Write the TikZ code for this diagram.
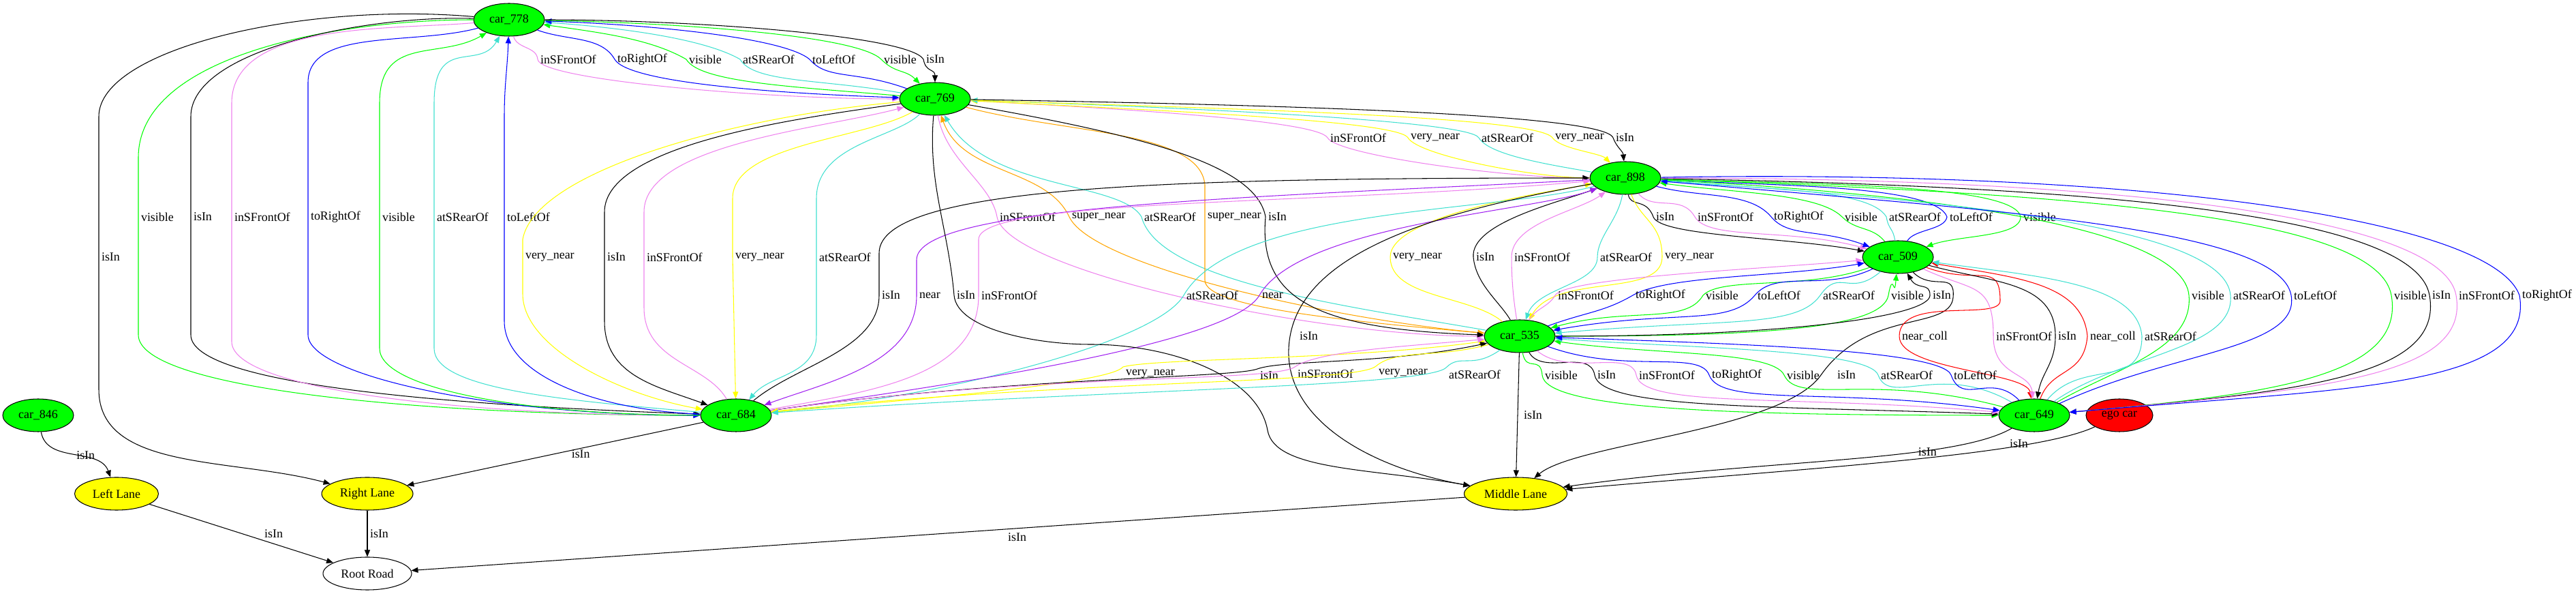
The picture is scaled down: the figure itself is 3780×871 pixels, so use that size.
\documentclass[tikz,border=0pt]{standalone}
\usepackage{fontspec}
\setmainfont{Liberation Serif}
\usepackage{tikz}
\usetikzlibrary{shapes.geometric,arrows.meta}

\definecolor{vgreen}{RGB}{0,255,0}
\definecolor{vblue}{RGB}{0,0,255}
\definecolor{vviolet}{RGB}{238,130,238}
\definecolor{vturq}{RGB}{64,224,208}
\definecolor{vyellow}{RGB}{255,255,0}
\definecolor{vorange}{RGB}{255,165,0}
\definecolor{vpurple}{RGB}{160,32,240}
\definecolor{vred}{RGB}{255,0,0}
\newcommand\lf{\fontsize{5.1}{6}\selectfont}

\begin{document}
\begin{tikzpicture}[x=0.1mm, y=0.1mm, >={Triangle[length=1mm,width=0.8mm]}, every node/.style={font=\lf}]
  \tikzstyle{car} = [ellipse, draw, fill=vgreen, minimum width=10.4mm, minimum height=4.8mm, inner sep=0pt, line width=0.3pt]
  \tikzstyle{egonode} = [car, fill=vred, minimum width=9.8mm]
  \tikzstyle{lane} = [car, fill=vyellow]
  \tikzstyle{road} = [car, fill=white, minimum width=13mm]
  \tikzstyle{lbl} = [anchor=west, inner sep=1pt, text=black]
  \tikzstyle{rel} = [line width=0.3pt]
  \tikzstyle{rvis} = [rel, draw=vgreen]
  \tikzstyle{risf} = [rel, draw=vviolet]
  \tikzstyle{rsr} = [rel, draw=vturq]
  \tikzstyle{rtr} = [rel, draw=vblue]
  \tikzstyle{rvn} = [rel, draw=vyellow]
  \tikzstyle{rsn} = [rel, draw=vorange]
  \tikzstyle{rnr} = [rel, draw=vpurple]
  \tikzstyle{rnc} = [rel, draw=vred]
  \tikzstyle{rin} = [rel, draw=black]
  \useasboundingbox (0,0) rectangle (3780,871);

  \node[car] (c778) at (747,842) {car\_778};
  \node[car] (c769) at (1372,726) {car\_769};
  \node[car] (c898) at (2385,610) {car\_898};
  \node[car] (c509) at (2785,494) {car\_509};
  \node[car] (c535) at (2230,378) {car\_535};
  \node[car] (c684) at (1080,262) {car\_684};
  \node[car] (c846) at (56,262) {car\_846};
  \node[car] (c649) at (2985,262) {car\_649};
  \node[egonode] (ego) at (3110,262) {ego car};
  \node[lane, minimum width=12.3mm] (ll) at (171,147) {Left Lane};
  \node[lane, minimum width=13.4mm] (rl) at (539,147) {Right Lane};
  \node[lane, minimum width=15.1mm] (ml) at (2224,147) {Middle Lane};
  \node[road] (rr) at (539,30) {Root Road};

  % car_778 -- car_769
  \draw[risf,->] (c778) to[out=-75,in=95] (789,784) node[lbl]{inSFrontOf} to[out=-85,in=180,out distance=3mm,in distance=20mm] (c769);
  \draw[rtr,->] (c778) to[out=-20,in=120,in distance=4mm] (902,784) node[lbl]{toRightOf} to[out=-60,in=178,out distance=4mm,in distance=18mm] (c769);
  \draw[rvis,<-] (c778) to[out=-8,in=150,in distance=6mm] (1007,784) node[lbl]{visible} to[out=-60,in=175,out distance=4mm,in distance=15mm] (c769);
  \draw[rsr,<-] (c778) to[out=-4,in=150,in distance=6mm] (1086,784) node[lbl]{atSRearOf} to[out=-60,in=170,out distance=4mm,in distance=12mm] (c769);
  \draw[rtr,<-] (c778) to[out=-2,in=140,in distance=5mm] (1188,784) node[lbl]{toLeftOf} to[out=-50,in=160,out distance=4mm,in distance=8mm] (c769);
  \draw[rvis,->] (c778) to[out=-1,in=135,in distance=5mm] (1293,784) node[lbl]{visible} to[out=-45,in=135,out distance=3mm,in distance=3mm] (c769);
  \draw[rin,->] (c778) to[out=0,in=120,in distance=4mm] (1355,784) node[lbl]{isIn} to[out=-80,in=90,out distance=2mm,in distance=2mm] (c769);

  % car_769 -- car_898
  \draw[risf,->] (c769) to[out=-3,in=120,in distance=3mm] (1948,669) node[lbl]{inSFrontOf} to[out=-60,in=180,out distance=3mm,in distance=12mm] (c898);
  \draw[rvn,<-] (c769) to[out=-3,in=120,in distance=3mm] (2066,669) node[lbl]{very\_near} to[out=-60,in=180,out distance=3mm,in distance=8mm] (c898);
  \draw[rsr,<-] (c769) to[out=-2,in=120,in distance=3mm] (2170,669) node[lbl]{atSRearOf} to[out=-60,in=170,out distance=3mm,in distance=6mm] (c898);
  \draw[rvn,->] (c769) to[out=-2,in=125,in distance=4mm] (2278,669) node[lbl]{very\_near} to[out=-55,in=135,out distance=2mm,in distance=2mm] (c898);
  \draw[rin,->] (c769) to[out=-1,in=110,in distance=4mm] (2367,669) node[lbl]{isIn} to[out=-70,in=95,out distance=1.5mm,in distance=1.5mm] (c898);

  % car_778 -- car_684
  \draw[rvis,->] (c778) to[out=180,in=90,out distance=20mm,in distance=15mm] (203,640) -- (203,553) node[lbl]{visible} -- (203,380) to[out=270,in=180,out distance=8mm,in distance=40mm] (c684);
  \draw[rin,->] (c778) to[out=178,in=90,out distance=15mm,in distance=10mm] (280,700) -- (280,553) node[lbl]{isIn} -- (280,380) to[out=270,in=178,out distance=7mm,in distance=40mm] (c684);
  \draw[risf,->] (c778) to[out=185,in=90,out distance=12mm,in distance=12mm] (340,720) -- (340,553) node[lbl]{inSFrontOf} -- (340,370) to[out=270,in=180,out distance=7mm,in distance=35mm] (c684);
  \draw[rtr,->] (c778) to[out=195,in=90,out distance=10mm,in distance=8mm] (452,750) -- (452,553) node[lbl]{toRightOf} -- (452,380) to[out=270,in=180,out distance=6mm,in distance=30mm] (c684);
  \draw[rvis,<-] (c778) to[out=210,in=90,out distance=8mm,in distance=10mm] (557,720) -- (557,553) node[lbl]{visible} -- (557,360) to[out=270,in=180,out distance=6mm,in distance=25mm] (c684);
  \draw[rsr,<-] (c778) to[out=240,in=90,out distance=6mm,in distance=10mm] (637,720) -- (637,553) node[lbl]{atSRearOf} -- (637,360) to[out=270,in=175,out distance=6mm,in distance=20mm] (c684);
  \draw[rtr,<-] (c778) to[out=268,in=90] (740,700) -- (740,553) node[lbl]{toLeftOf} -- (740,400) to[out=270,in=178,out distance=8mm,in distance=15mm] (c684);
  \draw[rin,->] (c778) to[out=175,in=90,out distance=25mm,in distance=10mm] (145,700) -- (145,494) node[lbl]{isIn} -- (145,300) to[out=270,in=165,out distance=12mm,in distance=15mm] (rl);

  % car_769 -- car_535
  \draw[risf,->] (c769) to[out=-80,in=100,in distance=5mm] (1463,553) node[lbl]{inSFrontOf} to[out=-80,in=180,out distance=8mm,in distance=25mm] (c535);
  \draw[rsn,<-] (c769) to[out=-70,in=115,in distance=8mm] (1569,553) node[lbl]{super\_near} to[out=-65,in=175,out distance=8mm,in distance=22mm] (c535);
  \draw[rsr,<-] (c769) to[out=-60,in=120,in distance=6mm] (1675,553) node[lbl]{atSRearOf} to[out=-75,in=170,out distance=10mm,in distance=20mm] (c535);
  \draw[rsn,->] (c769) to[out=-15,in=95,out distance=15mm,in distance=8mm] (1768,600) -- (1768,553) node[lbl]{super\_near} -- (1768,460) to[out=270,in=175,out distance=4mm,in distance=20mm] (c535);
  \draw[rin,->] (c769) to[out=-10,in=100,out distance=25mm,in distance=8mm] (1857,553) node[lbl]{isIn} to[out=-95,in=178,out distance=12mm,in distance=25mm] (c535);

  % car_898 -- car_509
  \draw[rin,->] (c898) to[out=-80,in=110,in distance=3mm] (2426,553) node[lbl]{isIn} to[out=-70,in=170,out distance=3mm,in distance=12mm] (c509);
  \draw[risf,->] (c898) to[out=-50,in=120,in distance=4mm] (2487,553) node[lbl]{inSFrontOf} to[out=-60,in=165,out distance=4mm,in distance=12mm] (c509);
  \draw[rtr,->] (c898) to[out=-15,in=130,in distance=5mm] (2599,553) node[lbl]{toRightOf} to[out=-50,in=160,out distance=4mm,in distance=8mm] (c509);
  \draw[rvis,<-] (c898) to[out=-8,in=135,in distance=5mm] (2703,553) node[lbl]{visible} to[out=-45,in=130,out distance=3mm,in distance=3mm] (c509);
  \draw[rsr,<-] (c898) to[out=-5,in=120,in distance=5mm] (2768,553) node[lbl]{atSRearOf} to[out=-80,in=100,out distance=2mm,in distance=2mm] (c509);
  \draw[rtr,<-] (c898) to[out=-3,in=110,in distance=5mm] (2857,553) node[lbl]{toLeftOf} to[out=-100,in=60,out distance=2mm,in distance=2mm] (c509);
  \draw[rvis,->] (c898) to[out=-2,in=100,in distance=5mm] (2965,553) node[lbl]{visible} to[out=-90,in=20,out distance=3mm,in distance=5mm] (c509);

  % car_898 -- car_535
  \draw[rvn,<-] (c898) to[out=190,in=90,out distance=8mm,in distance=6mm] (2040,494) node[lbl]{very\_near} to[out=270,in=140,out distance=6mm,in distance=6mm] (c535);
  \draw[rin,<-] (c898) to[out=200,in=95,out distance=6mm,in distance=5mm] (2162,494) node[lbl]{isIn} to[out=-85,in=120,out distance=4mm,in distance=3mm] (c535);
  \draw[risf,<-] (c898) to[out=215,in=90,out distance=5mm,in distance=5mm] (2218,494) node[lbl]{inSFrontOf} to[out=270,in=100,out distance=3mm,in distance=3mm] (c535);
  \draw[rsr,->] (c898) to[out=260,in=90,in distance=3mm] (2344,494) node[lbl]{atSRearOf} to[out=270,in=70,out distance=4mm,in distance=5mm] (c535);
  \draw[rvn,->] (c898) to[out=-70,in=90,in distance=5mm] (2439,494) node[lbl]{very\_near} to[out=270,in=60,out distance=6mm,in distance=8mm] (c535);

  % car_769 -- car_684
  \draw[rvn,->] (c769) to[out=185,in=80,out distance=25mm,in distance=10mm] (767,520) -- (767,494) node[lbl]{very\_near} -- (767,440) to[out=270,in=170,out distance=8mm,in distance=12mm] (c684);
  \draw[rin,->] (c769) to[out=188,in=90,out distance=15mm,in distance=10mm] (887,560) -- (887,494) node[lbl]{isIn} -- (887,400) to[out=270,in=160,out distance=8mm,in distance=8mm] (c684);
  \draw[risf,<-] (c769) to[out=195,in=90,out distance=12mm,in distance=10mm] (945,560) -- (945,494) node[lbl]{inSFrontOf} -- (945,420) to[out=270,in=120,out distance=8mm,in distance=6mm] (c684);
  \draw[rvn,->] (c769) to[out=210,in=90,out distance=8mm,in distance=8mm] (1075,580) -- (1075,494) node[lbl]{very\_near} -- (c684);
  \draw[rsr,->] (c769) to[out=225,in=90,out distance=5mm,in distance=8mm] (1198,580) -- (1198,494) node[lbl]{atSRearOf} -- (1198,380) to[out=270,in=50,out distance=6mm,in distance=5mm] (c684);

  % car_898 -- car_684
  \draw[rin,<-] (c898) to[out=180,in=90,out distance=60mm,in distance=10mm] (1290,500) -- (1290,438) node[lbl]{isIn} to[out=270,in=40,out distance=8mm,in distance=8mm] (c684);
  \draw[rnr,->] (c898) to[out=183,in=90,out distance=50mm,in distance=8mm] (1345,490) -- (1345,438) node[lbl]{near} to[out=270,in=20,out distance=10mm,in distance=10mm] (c684);
  \draw[risf,<-] (c898) to[out=185,in=90,out distance=40mm,in distance=6mm] (1436,520) -- (1436,438) node[lbl]{inSFrontOf} to[out=270,in=10,out distance=12mm,in distance=15mm] (c684);
  \draw[rsr,->] (c898) to[out=195,in=60,out distance=15mm,in distance=15mm] (1737,438) node[lbl]{atSRearOf} to[out=240,in=5,out distance=8mm,in distance=25mm] (c684);
  \draw[rnr,<-] (c898) to[out=200,in=60,out distance=10mm,in distance=12mm] (1848,438) node[lbl]{near} to[out=240,in=8,out distance=8mm,in distance=30mm] (c684);

  % to Middle Lane from above
  \draw[rin,->] (c769) to[out=265,in=95,out distance=10mm,in distance=10mm] (1400,438) node[lbl]{isIn} to[out=-85,in=180,out distance=5mm,in distance=8mm] (1600,366) to[out=0,in=100,out distance=12mm,in distance=8mm] (1860,240) to[out=-80,in=170,out distance=6mm,in distance=15mm] (ml);
  \draw[rin,->] (c898) to[out=190,in=80,out distance=25mm,in distance=12mm] (1893,378) node[lbl,xshift=1mm]{isIn} to[out=260,in=170,out distance=12mm,in distance=15mm] (ml);
  \draw[rin,->] (c509) to[out=-45,in=85,out distance=4mm,in distance=4mm] (2866,435) to[out=265,in=55,out distance=5mm,in distance=12mm] (2672,321) node[lbl,xshift=2mm]{isIn} to[out=235,in=40,out distance=10mm,in distance=8mm] (ml);
  \draw[rin,->] (c535) -- node[lbl,pos=.5,xshift=.5mm]{isIn} (ml);

  % car_509 -- car_535
  \draw[risf,<-] (c509) to[out=185,in=60,out distance=15mm,in distance=3mm] (2282,438) node[lbl]{inSFrontOf} to[out=240,in=60,out distance=2mm,in distance=2mm] (c535);
  \draw[rtr,<-] (c509) to[out=190,in=30,out distance=12mm,in distance=6mm] (2396,438) node[lbl]{toRightOf} to[out=210,in=20,out distance=5mm,in distance=6mm] (c535);
  \draw[rvis,->] (c509) to[out=200,in=45,out distance=10mm,in distance=4mm] (2499,438) node[lbl]{visible} to[out=240,in=15,out distance=5mm,in distance=12mm] (c535);
  \draw[rtr,->] (c509) to[out=205,in=50,out distance=8mm,in distance=5mm] (2575,438) node[lbl]{toLeftOf} to[out=230,in=10,out distance=6mm,in distance=18mm] (c535);
  \draw[rsr,->] (c509) to[out=220,in=55,out distance=6mm,in distance=5mm] (2671,438) node[lbl]{atSRearOf} to[out=235,in=5,out distance=6mm,in distance=25mm] (c535);
  \draw[rvis,<-] (c509) to[out=265,in=80,out distance=4mm,in distance=4mm] (2771,438) node[lbl]{visible} to[out=260,in=0,out distance=5mm,in distance=30mm] (c535);
  \draw[rin,<-] (c509) to[out=-60,in=90,out distance=3mm,in distance=2mm] (2832,438) node[lbl]{isIn} to[out=270,in=0,out distance=3mm,in distance=35mm] (c535);

  % car_898 -- car_649
  \draw[rvis,<-] (c898) to[out=-3,in=95,out distance=40mm,in distance=10mm] (3212,438) node[lbl]{visible} to[out=275,in=30,out distance=8mm,in distance=10mm] (c649);
  \draw[rsr,<-] (c898) to[out=-4,in=95,out distance=45mm,in distance=10mm] (3273,438) node[lbl]{atSRearOf} to[out=275,in=35,out distance=8mm,in distance=12mm] (c649);
  \draw[rtr,<-] (c898) to[out=-5,in=100,out distance=50mm,in distance=10mm] (3362,438) node[lbl]{toLeftOf} to[out=280,in=25,out distance=8mm,in distance=18mm] (c649);
  \draw[rvis,->] (c898) to[out=-2,in=100,out distance=60mm,in distance=12mm] (3509,438) node[lbl]{visible} to[out=280,in=5,out distance=12mm,in distance=30mm] (c649);
  \draw[rin,->] (c898) to[out=-1,in=100,out distance=65mm,in distance=12mm] (3565,438) node[lbl]{isIn} to[out=280,in=5,out distance=12mm,in distance=35mm] (c649);
  \draw[risf,->] (c898) to[out=0,in=100,out distance=65mm,in distance=12mm] (3604,438) node[lbl]{inSFrontOf} to[out=280,in=5,out distance=12mm,in distance=38mm] (c649);
  \draw[rtr,->] (c898) to[out=1,in=110,out distance=70mm,in distance=12mm] (3697,438) node[lbl]{toRightOf} to[out=280,in=5,out distance=14mm,in distance=40mm] (c649);

  % car_509 -- car_649
  \draw[rnc,->] (c509) to[out=-20,in=90,out distance=8mm,in distance=6mm] (2935,430) to[out=270,in=90,out distance=3mm,in distance=6mm] (2787,378) node[lbl]{near\_coll} to[out=270,in=100,out distance=5mm,in distance=4mm] (c649);
  \draw[risf,->] (c509) to[out=-25,in=90,out distance=8mm,in distance=8mm] (2925,378) node[lbl]{inSFrontOf} to[out=270,in=95,out distance=6mm,in distance=4mm] (c649);
  \draw[rin,->] (c509) to[out=-15,in=90,out distance=10mm,in distance=8mm] (3016,378) node[lbl]{isIn} to[out=270,in=80,out distance=4mm,in distance=4mm] (c649);
  \draw[rnc,<-] (c509) to[out=-10,in=95,out distance=12mm,in distance=8mm] (3063,378) node[lbl]{near\_coll} to[out=265,in=70,out distance=6mm,in distance=5mm] (c649);
  \draw[rsr,<-] (c509) to[out=-8,in=95,out distance=15mm,in distance=8mm] (3143,378) node[lbl]{atSRearOf} to[out=270,in=50,out distance=8mm,in distance=8mm] (c649);

  % car_535 -- car_684
  \draw[rvn,<-] (c535) to[out=188,in=15,out distance=20mm,in distance=5mm] (1648,333) node[lbl,anchor=north west]{very\_near} to[out=230,in=5,out distance=3mm,in distance=25mm] (c684);
  \draw[rin,<-] (c535) to[out=192,in=20,out distance=15mm,in distance=4mm] (1845,330) node[lbl,anchor=north west]{isIn} to[out=200,in=8,out distance=4mm,in distance=35mm] (c684);
  \draw[risf,<-] (c535) to[out=185,in=35,out distance=12mm,in distance=4mm] (1900,333) node[lbl,anchor=north west]{inSFrontOf} to[out=215,in=8,out distance=4mm,in distance=40mm] (c684);
  \draw[rvn,->] (c535) to[out=195,in=40,out distance=8mm,in distance=4mm] (2019,334) node[lbl,anchor=north west]{very\_near} to[out=220,in=6,out distance=4mm,in distance=45mm] (c684);
  \draw[rsr,->] (c535) to[out=215,in=45,out distance=5mm,in distance=3mm] (2122,332) node[lbl,anchor=north west]{atSRearOf} to[out=225,in=4,out distance=4mm,in distance=50mm] (c684);

  % car_535 -- car_649
  \draw[rvis,->] (c535) to[out=-80,in=95,out distance=3mm,in distance=3mm] (2263,321) node[lbl]{visible} to[out=-85,in=180,out distance=5mm,in distance=40mm] (c649);
  \draw[rin,->] (c535) to[out=-60,in=100,out distance=4mm,in distance=4mm] (2340,321) node[lbl]{isIn} to[out=-80,in=178,out distance=5mm,in distance=35mm] (c649);
  \draw[risf,->] (c535) to[out=-40,in=100,out distance=6mm,in distance=4mm] (2401,321) node[lbl]{inSFrontOf} to[out=-80,in=175,out distance=5mm,in distance=30mm] (c649);
  \draw[rtr,->] (c535) to[out=-20,in=110,out distance=12mm,in distance=4mm] (2508,321) node[lbl]{toRightOf} to[out=-70,in=172,out distance=5mm,in distance=25mm] (c649);
  \draw[rvis,<-] (c535) to[out=-8,in=115,out distance=15mm,in distance=4mm] (2618,321) node[lbl]{visible} to[out=-65,in=165,out distance=5mm,in distance=20mm] (c649);
  \draw[rsr,<-] (c535) to[out=-4,in=110,out distance=20mm,in distance=4mm] (2756,321) node[lbl]{atSRearOf} to[out=-70,in=150,out distance=5mm,in distance=12mm] (c649);
  \draw[rtr,<-] (c535) to[out=-2,in=110,out distance=25mm,in distance=4mm] (2863,321) node[lbl]{toLeftOf} to[out=-70,in=135,out distance=5mm,in distance=6mm] (c649);

  % lanes and road
  \draw[rin,->] (c846) to[out=-80,in=110] node[lbl,pos=.5]{isIn} (ll);
  \draw[rin,->] (c684) -- node[lbl,pos=.5,xshift=2mm]{isIn} (rl);
  \draw[rin,->] (c649) to[out=210,in=8,out distance=10mm,in distance=30mm] node[lbl,pos=.33]{isIn} (ml);
  \draw[rin,->] (ego) to[out=205,in=5,out distance=10mm,in distance=35mm] node[lbl,pos=.28,yshift=.6mm]{isIn} (ml);
  \draw[rin,->] (ll) -- node[lbl,pos=.5,xshift=3mm]{isIn} (rr);
  \draw[rin,->] (rl) -- node[lbl,pos=.5]{isIn} (rr);
  \draw[rin,->] (ml) -- node[lbl,pos=.425,anchor=north,yshift=-.3mm]{isIn} (rr);
\end{tikzpicture}
\end{document}
